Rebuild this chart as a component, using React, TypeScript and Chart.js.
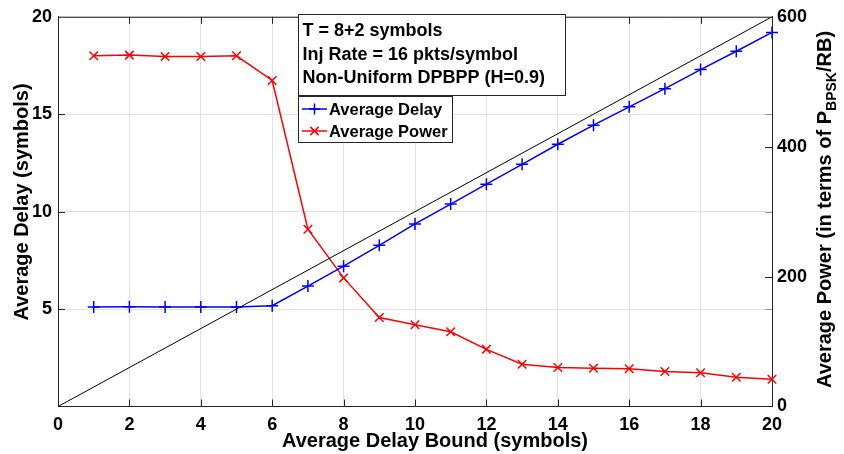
import React, { useEffect, useRef } from "react";
import { Chart, registerables } from "chart.js";

Chart.register(...registerables);

const delayBounds = [1, 2, 3, 4, 5, 6, 7, 8, 9, 10, 11, 12, 13, 14, 15, 16, 17, 18, 19, 20];
const avgDelay = [5.11, 5.12, 5.11, 5.11, 5.11, 5.17, 6.18, 7.2, 8.27, 9.37, 10.39, 11.41, 12.43, 13.46, 14.44, 15.38, 16.31, 17.29, 18.23, 19.2];
const avgPower = [540, 541, 539, 539, 540, 502, 273, 198, 137, 126, 115, 88, 65, 60, 59, 58, 54, 52, 45, 42];
const refLineX = [0, 20];
const refLineY = [0, 20];
const infoLines = ["T = 8+2 symbols", "Inj Rate = 16 pkts/symbol", "Non-Uniform DPBPP (H=0.9)"];
const legendLabels = ["Average Delay", "Average Power"];
const xTitle = "Average Delay Bound (symbols)";
const yTitle = "Average Delay (symbols)";
const y1TitleParts = ["Average Power (in terms of P", "BPSK", "/RB)"];

const FONT = "'Liberation Sans', Arial, Helvetica, sans-serif";
const BLUE = "#0000ff";
const RED = "#ff0000";

const overlayPlugin = {
  id: "overlay",
  afterDraw(chart: any) {
    const ctx = chart.ctx as CanvasRenderingContext2D;
    const a = chart.chartArea;
    const xs = chart.scales.x;
    const ys = chart.scales.y;
    const y1s = chart.scales.y1;
    ctx.save();
    ctx.strokeStyle = "#262626";
    ctx.lineWidth = 1;
    ctx.beginPath();
    ctx.moveTo(a.left, a.top + 0.5);
    ctx.lineTo(a.right, a.top + 0.5);
    ctx.stroke();
    const tl = 7;
    for (let v = 2; v < 20; v += 2) {
      const px = Math.round(xs.getPixelForValue(v)) + 0.5;
      ctx.beginPath();
      ctx.moveTo(px, a.bottom);
      ctx.lineTo(px, a.bottom - tl);
      ctx.moveTo(px, a.top);
      ctx.lineTo(px, a.top + tl);
      ctx.stroke();
    }
    for (let v = 5; v < 20; v += 5) {
      const py = Math.round(ys.getPixelForValue(v)) + 0.5;
      ctx.beginPath();
      ctx.moveTo(a.left, py);
      ctx.lineTo(a.left + tl, py);
      ctx.stroke();
    }
    for (let v = 200; v < 600; v += 200) {
      const py = Math.round(y1s.getPixelForValue(v)) + 0.5;
      ctx.beginPath();
      ctx.moveTo(a.right, py);
      ctx.lineTo(a.right - tl, py);
      ctx.stroke();
    }
    ctx.strokeStyle = "#999";
    for (let v = 5; v < 20; v += 5) {
      const py = Math.round(ys.getPixelForValue(v)) + 0.5;
      ctx.beginPath();
      ctx.moveTo(a.right, py);
      ctx.lineTo(a.right - tl, py);
      ctx.stroke();
    }

    // info box
    ctx.fillStyle = "#fff";
    ctx.strokeStyle = "#262626";
    ctx.fillRect(298, 14, 267, 81);
    ctx.strokeRect(298.5, 14.5, 267, 81);
    ctx.fillStyle = "#000";
    ctx.font = `bold 18px ${FONT}`;
    ctx.textBaseline = "alphabetic";
    ctx.textAlign = "left";
    infoLines.forEach((t, i) => ctx.fillText(t, 302.5, 36 + i * 23.5));

    // legend
    ctx.fillStyle = "#fff";
    ctx.fillRect(298, 96, 154, 46);
    ctx.strokeRect(298.5, 96.5, 154, 46);
    const ly = [109, 131];
    const cols = [BLUE, RED];
    ly.forEach((y, i) => {
      ctx.strokeStyle = cols[i];
      ctx.lineWidth = 1.5;
      ctx.beginPath();
      ctx.moveTo(302, y);
      ctx.lineTo(327, y);
      ctx.stroke();
      const cx = 314.5;
      const r = 5.5;
      ctx.beginPath();
      if (i === 0) {
        ctx.moveTo(cx - r, y);
        ctx.lineTo(cx + r, y);
        ctx.moveTo(cx, y - r);
        ctx.lineTo(cx, y + r);
      } else {
        const d = r * 0.75;
        ctx.moveTo(cx - d, y - d);
        ctx.lineTo(cx + d, y + d);
        ctx.moveTo(cx - d, y + d);
        ctx.lineTo(cx + d, y - d);
      }
      ctx.stroke();
      ctx.fillStyle = "#000";
      ctx.font = `bold 16.5px ${FONT}`;
      ctx.fillText(legendLabels[i], 329, y + 6);
    });

    // axis titles
    ctx.fillStyle = "#000";
    ctx.font = `bold 20px ${FONT}`;
    ctx.textAlign = "center";
    ctx.fillText(xTitle, 435, 447);

    ctx.save();
    ctx.translate(28, 202);
    ctx.rotate(-Math.PI / 2);
    ctx.fillText(yTitle, 0, 0);
    ctx.restore();

    ctx.save();
    ctx.translate(831, 209.5);
    ctx.rotate(-Math.PI / 2);
    ctx.textAlign = "left";
    const bigF = `bold 20px ${FONT}`;
    const smallF = `bold 14px ${FONT}`;
    ctx.font = bigF;
    const w1 = ctx.measureText(y1TitleParts[0]).width;
    const w3 = ctx.measureText(y1TitleParts[2]).width;
    ctx.font = smallF;
    const w2 = ctx.measureText(y1TitleParts[1]).width;
    let x0 = -(w1 + w2 + w3) / 2;
    ctx.font = bigF;
    ctx.fillText(y1TitleParts[0], x0, 0);
    x0 += w1;
    ctx.font = smallF;
    ctx.fillText(y1TitleParts[1], x0, 5);
    x0 += w2;
    ctx.font = bigF;
    ctx.fillText(y1TitleParts[2], x0, 0);
    ctx.restore();

    ctx.restore();
  },
};

export default function App() {
  const ref = useRef<HTMLCanvasElement | null>(null);
  useEffect(() => {
    if (!ref.current) return;
    const tickFont = { family: FONT, size: 18, weight: "bold" as const };
    const chart = new Chart(ref.current, {
      type: "line",
      data: {
        datasets: [
          {
            label: "ref",
            data: refLineX.map((x, i) => ({ x, y: refLineY[i] })),
            borderColor: "#000",
            borderWidth: 1,
            pointRadius: 0,
            yAxisID: "y",
          },
          {
            label: legendLabels[0],
            data: delayBounds.map((x, i) => ({ x, y: avgDelay[i] })),
            borderColor: BLUE,
            backgroundColor: BLUE,
            borderWidth: 1.5,
            pointStyle: "cross",
            pointRadius: 6,
            pointBorderWidth: 1.5,
            yAxisID: "y",
            clip: false as any,
          },
          {
            label: legendLabels[1],
            data: delayBounds.map((x, i) => ({ x, y: avgPower[i] })),
            borderColor: RED,
            backgroundColor: RED,
            borderWidth: 1.5,
            pointStyle: "crossRot",
            pointRadius: 6,
            pointBorderWidth: 1.5,
            yAxisID: "y1",
            clip: false as any,
          },
        ],
      },
      options: {
        responsive: false,
        animation: false,
        layout: { padding: { top: 13.5, left: 0, right: 0, bottom: 0 } },
        plugins: { legend: { display: false }, tooltip: { enabled: false } },
        scales: {
          x: {
            type: "linear",
            min: 0,
            max: 20,
            ticks: { stepSize: 2, font: tickFont, color: "#000", padding: 8, maxRotation: 0 },
            grid: { color: "#e2e2e2", drawTicks: false },
            border: { color: "#262626", width: 1 },
            afterFit: (s: any) => {
              s.height = 47.5;
            },
          },
          y: {
            type: "linear",
            position: "left",
            min: 0,
            max: 20,
            ticks: {
              stepSize: 5,
              font: tickFont,
              color: "#000",
              padding: 6,
              callback: (v: any) => (v === 0 ? "" : String(v)),
            },
            grid: { color: "#e2e2e2", drawTicks: false },
            border: { color: "#262626", width: 1 },
            afterFit: (s: any) => {
              s.width = 58;
            },
          },
          y1: {
            type: "linear",
            position: "right",
            min: 0,
            max: 600,
            ticks: { stepSize: 200, font: tickFont, color: "#000", padding: 5 },
            grid: { display: false, drawTicks: false },
            border: { color: "#262626", width: 1 },
            afterFit: (s: any) => {
              s.width = 72;
            },
          },
        },
      },
      plugins: [overlayPlugin],
    });
    return () => chart.destroy();
  }, []);
  return (
    <div style={{ position: "fixed", left: 0, top: 0, width: 844, height: 454, background: "#fff" }}>
      <canvas ref={ref} width={844} height={454} style={{ display: "block" }} />
    </div>
  );
}
